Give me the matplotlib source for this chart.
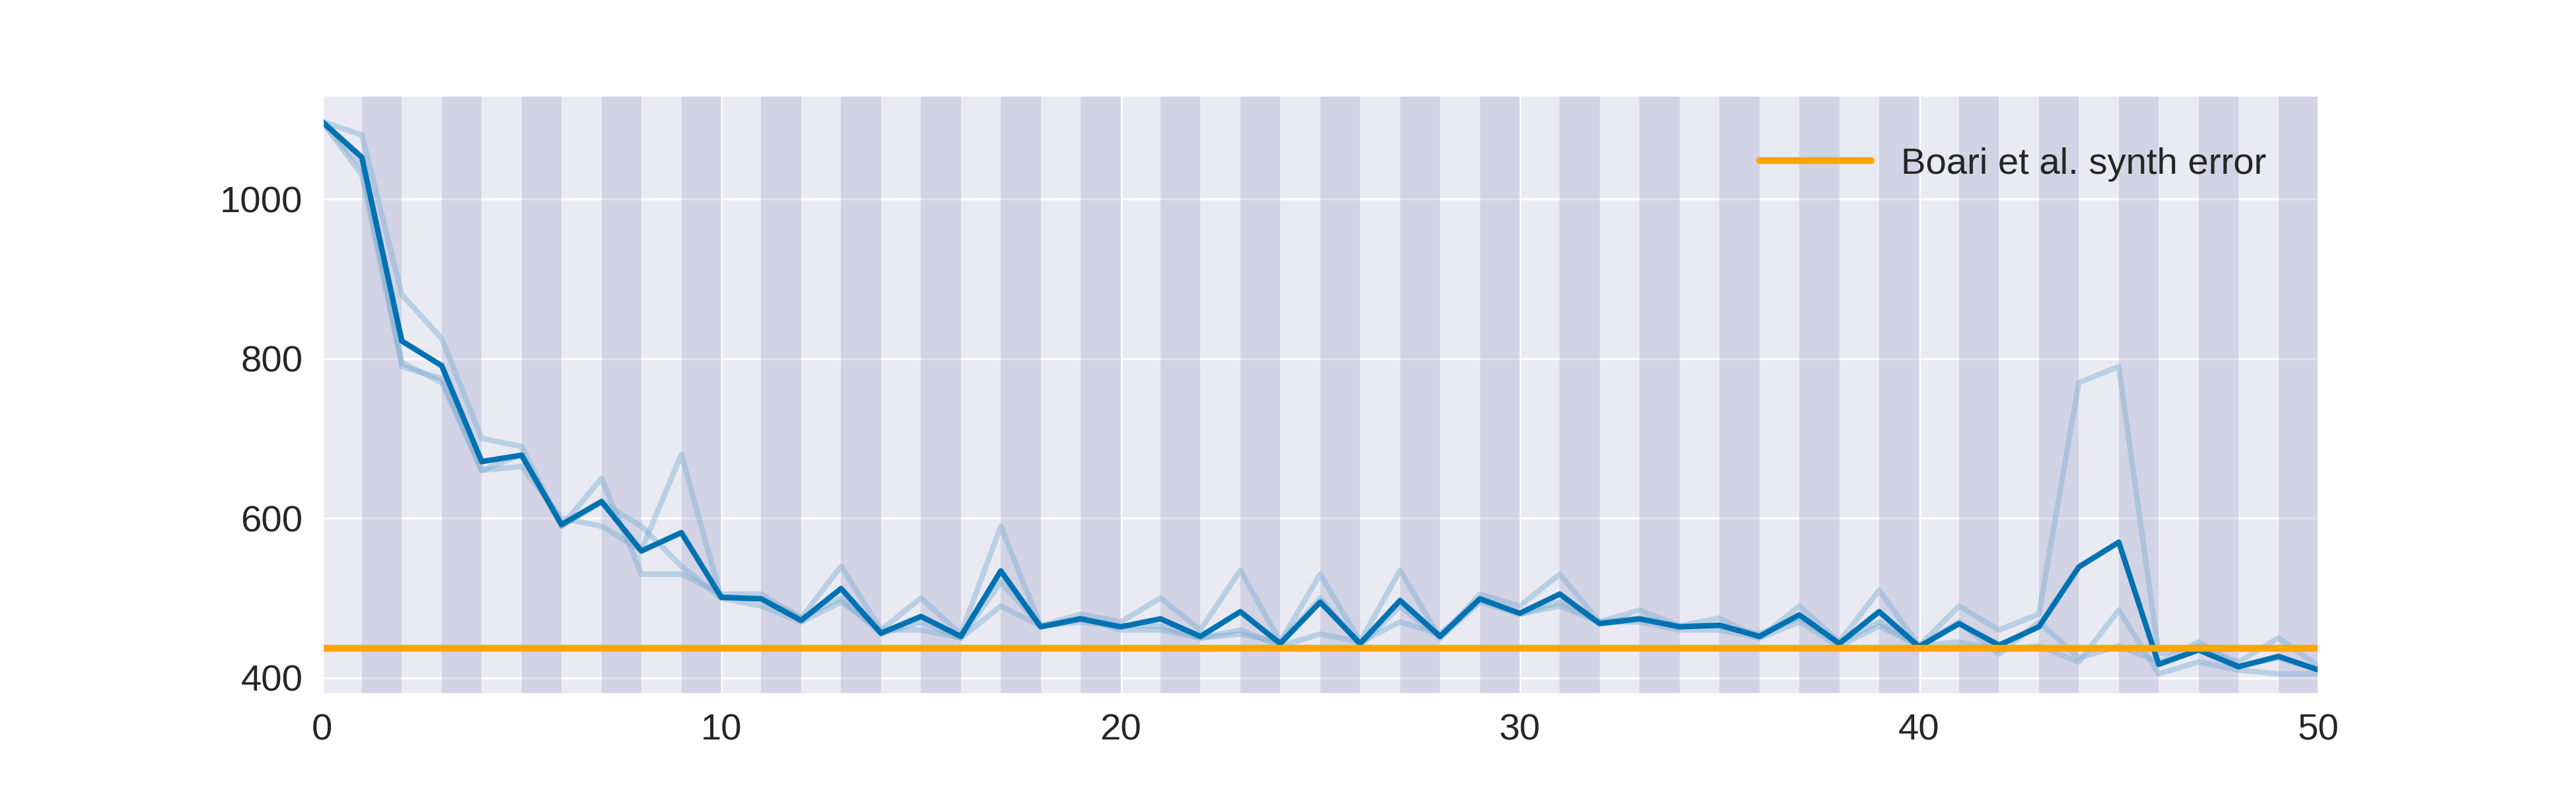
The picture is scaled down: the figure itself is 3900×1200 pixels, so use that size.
import numpy as np
import matplotlib
matplotlib.use("Agg")
import matplotlib.pyplot as plt
import seaborn as sns

epochs = list(range(51))
mean_err = [1097, 1052, 822, 791, 671, 679, 592, 621, 559, 582, 501, 499, 472, 512, 456, 477, 452, 534,
            464, 474, 464, 474, 452, 483, 443, 495, 443, 497, 452, 499, 481, 505, 468, 474, 464, 466,
            452, 479, 443, 483, 439, 468, 441, 464, 539, 570, 417, 435, 414, 427, 410]
run_a = [1097, 1080, 880, 825, 700, 690, 590, 650, 530, 530, 505, 505, 475, 540, 460, 500, 455, 590,
         465, 480, 470, 500, 460, 535, 445, 530, 445, 535, 450, 505, 490, 530, 470, 485, 465, 475,
         450, 490, 445, 510, 440, 490, 460, 480, 770, 790, 430, 440, 420, 450, 415]
run_b = [1097, 1040, 795, 770, 660, 665, 600, 590, 560, 680, 500, 500, 475, 500, 455, 470, 450, 490,
         465, 470, 465, 465, 450, 460, 440, 455, 445, 470, 455, 500, 480, 495, 470, 475, 465, 465,
         455, 475, 445, 470, 440, 470, 430, 470, 425, 440, 420, 445, 415, 425, 410]
run_c = [1097, 1030, 790, 775, 660, 680, 590, 620, 590, 540, 500, 490, 470, 495, 460, 460, 450, 520,
         465, 475, 460, 460, 450, 455, 445, 500, 440, 490, 450, 495, 480, 490, 470, 470, 460, 460,
         450, 470, 440, 465, 440, 445, 435, 440, 420, 485, 405, 420, 410, 405, 405]
synth_error = 437

sns.set_style("darkgrid")
plt.rcParams['font.family'] = ['Liberation Sans', 'DejaVu Sans']

fig, ax = plt.subplots(figsize=(13, 4))
fig.subplots_adjust(left=0.125, right=0.9, top=0.88, bottom=0.125)
for start in range(1, 50, 2):
    ax.axvspan(start, start + 1, color="#b8b8d8", alpha=0.45, lw=0)
for run in (run_a, run_b, run_c):
    ax.plot(epochs, run, color="#7fafd3", alpha=0.45, lw=2)
ax.plot(epochs, mean_err, color="#0072B2", lw=2)
ax.axhline(synth_error, color="#FFA500", lw=2.5, label="Boari et al. synth error")

ax.set_xlim(0, 50)
ax.set_ylim(380, 1130)
ax.set_yticks([400, 600, 800, 1000])
ax.tick_params(labelsize=13.5)
ax.legend(loc="upper right", frameon=False, fontsize=13.5, borderaxespad=1.0, handlelength=3)
fig.savefig("out.png", dpi=300)
